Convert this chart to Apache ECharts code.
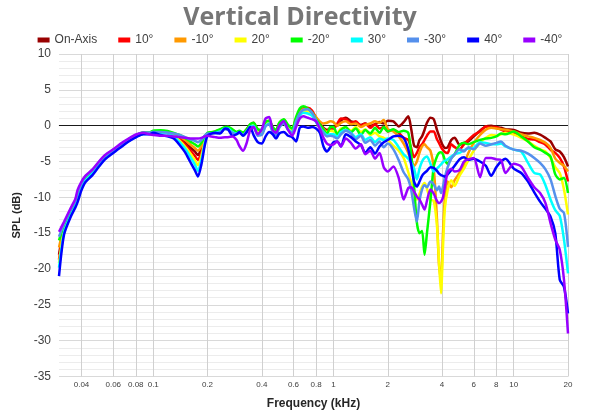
<!DOCTYPE html>
<html><head><meta charset="utf-8">
<script src="https://cdn.jsdelivr.net/npm/echarts@6/dist/echarts.min.js"></script>
<style>html,body{margin:0;padding:0;background:#fff}#c{width:600px;height:420px}</style>
</head><body><div id="c"></div>
<script>
const freqs = [
0.03,0.032,0.035,0.037,0.038,0.04,0.042,0.046,0.05,0.054,0.06,0.067,0.073,0.081,0.088,0.095,
0.1,0.11,0.12,0.13,0.14,0.15,0.16,0.17,0.177,0.185,0.193,0.2,
0.21,0.22,0.235,0.25,0.26,0.275,0.29,0.3,0.315,0.33,0.345,0.36,0.38,
0.4,0.42,0.44,0.46,0.48,0.5,0.53,0.56,0.59,0.62,0.65,0.68,0.72,0.76,0.8,0.84,0.88,0.92,0.96,
1.0,1.05,1.1,1.17,1.25,1.33,1.42,1.5,1.6,1.7,1.8,1.9,
2.0,2.15,2.3,2.45,2.6,2.7,2.8,2.9,3.0,3.1,3.2,3.3,3.45,3.6,3.75,3.85,3.95,4.05,4.15,4.3,4.5,4.7,
5.0,5.3,5.6,6.0,6.5,7.0,7.5,8.0,8.5,9.0,10,11,12,13,14,15,16,17,18,19,20];

const onAxis = [
-18.0,-14.3,-12.0,-10.8,-10.0,-8.3,-7.4,-6.4,-5.3,-4.4,-3.5,-2.65,-2.0,-1.35,-1.0,-1.0,
-0.85,-0.85,-0.9,-1.2,-1.7,-2.3,-3.0,-3.6,-4.1,-3.2,-1.9,-1.1,
-1.0,-0.9,-0.7,-0.4,-0.3,-0.6,-1.0,-0.8,-1.0,-0.5,0.1,0.3,-0.6,
-0.8,0.3,0.5,-0.5,-0.9,0.2,0.7,-0.2,-0.6,0.8,1.8,2.2,2.3,1.9,1.0,0.3,-0.3,-0.6,-0.4,
-0.2,0.0,0.7,1.1,0.6,0.4,0.1,0.3,0.0,0.2,0.5,0.3,
0.7,0.6,-0.1,0.5,1.3,-0.5,-2.8,-3.0,-2.0,-1.5,-0.6,0.4,1.1,0.9,-0.6,-1.4,-2.2,-2.8,-3.1,-3.0,-2.0,-1.7,
-2.65,-2.4,-2.2,-1.5,-0.7,-0.1,0.0,-0.2,-0.3,-0.5,-0.6,-1.0,-1.1,-1.0,-1.25,-1.7,-2.2,-3.3,-3.6,-4.4,-5.7];

const up10 = [
-18.7,-14.5,-12.1,-10.9,-10.1,-8.4,-7.5,-6.5,-5.4,-4.5,-3.6,-2.7,-2.05,-1.4,-1.05,-1.05,
-0.85,-0.85,-0.95,-1.3,-1.9,-2.6,-3.4,-4.2,-4.8,-3.7,-2.1,-1.2,
-1.0,-0.9,-0.6,-0.3,-0.3,-0.7,-1.0,-0.9,-1.1,-0.6,0.1,0.4,-0.7,
-0.7,0.4,0.6,-0.4,-0.8,0.3,0.8,-0.1,-0.5,1.0,2.0,2.4,2.5,2.1,1.1,0.3,-0.4,-0.8,-0.3,
-0.4,0.3,1.0,0.9,0.4,0.6,0.0,0.3,-0.3,0.2,-0.4,-0.2,
-0.8,-0.6,-1.0,-1.7,-2.0,-3.2,-4.4,-3.8,-3.0,-2.6,-2.0,-1.4,-0.8,-0.8,-1.9,-2.4,-3.0,-3.4,-3.7,-3.8,-2.6,-3.0,
-3.3,-2.6,-2.0,-1.3,-0.8,-0.1,-0.3,-0.2,-0.55,-0.8,-1.0,-1.5,-1.85,-1.95,-2.3,-2.65,-3.35,-3.8,-4.5,-5.7,-7.8];

const dn10 = [
-17.0,-14.1,-11.9,-10.7,-9.9,-8.2,-7.3,-6.4,-5.3,-4.4,-3.5,-2.6,-2.0,-1.3,-1.0,-1.0,
-0.8,-0.8,-0.85,-1.1,-1.5,-2.0,-2.6,-3.1,-3.5,-2.8,-1.7,-1.1,
-1.0,-0.8,-0.6,-0.3,-0.2,-0.6,-0.9,-0.8,-1.1,-0.5,0.1,0.3,-0.7,
-0.6,0.4,0.7,-0.3,-0.7,0.3,0.8,0.0,-0.4,0.9,1.9,2.3,2.3,1.8,1.2,0.6,0.3,0.4,0.6,
0.5,0.0,0.4,0.6,0.2,0.3,-0.2,0.1,0.3,0.6,0.4,0.8,
-0.5,-0.8,-1.5,-2.5,-3.8,-4.8,-5.6,-5.0,-3.8,-2.9,-2.6,-3.0,-3.5,-6.0,-13.0,-19.5,-21.5,-15.0,-10.0,-7.8,-8.6,-7.6,
-6.6,-5.4,-3.8,-2.4,-1.3,-0.55,-0.3,-0.4,-0.5,-0.55,-0.8,-1.2,-1.5,-1.7,-2.0,-2.4,-3.1,-4.6,-5.2,-5.6,-6.4];

const up20 = [
-19.2,-14.7,-12.2,-11.0,-10.3,-8.5,-7.6,-6.6,-5.5,-4.55,-3.65,-2.75,-2.1,-1.45,-1.1,-1.1,
-0.9,-0.9,-1.0,-1.4,-2.1,-2.9,-3.8,-4.8,-5.5,-4.2,-2.3,-1.2,
-1.1,-1.0,-0.7,-0.4,-0.4,-0.8,-1.1,-0.9,-1.2,-0.6,0.0,0.2,-0.9,
-0.9,0.2,0.4,-0.5,-1.0,0.1,0.6,-0.3,-0.7,0.6,1.6,2.0,2.0,1.7,0.8,0.0,-0.5,-0.9,-0.7,
-0.8,-1.0,-0.4,-0.3,-0.7,-0.2,-0.9,-0.5,-1.3,-1.0,-1.5,-1.7,
-2.0,-2.8,-3.5,-4.5,-6.5,-8.0,-9.4,-10.3,-9.5,-8.5,-8.0,-8.8,-10.3,-10.5,-14.0,-19.0,-23.4,-17.0,-11.5,-9.0,-7.6,-8.4,
-7.0,-6.0,-4.8,-3.5,-2.4,-1.7,-1.3,-1.4,-1.2,-1.0,-1.25,-1.7,-2.2,-2.8,-3.3,-3.6,-4.5,-5.8,-6.6,-8.9,-12.4];

const dn20 = [
-16.0,-13.9,-11.8,-10.6,-9.7,-8.1,-7.2,-6.3,-5.2,-4.3,-3.4,-2.55,-1.9,-1.3,-0.95,-0.95,
-0.7,-0.65,-0.75,-1.0,-1.3,-1.7,-2.2,-2.6,-2.9,-2.4,-1.5,-1.0,
-0.9,-0.8,-0.5,-0.2,-0.2,-0.5,-0.9,-0.7,-1.0,-0.5,0.2,0.4,-0.5,
-0.6,0.5,0.7,-0.2,-0.6,0.4,0.9,0.1,-0.4,1.2,2.4,2.7,2.4,1.8,0.9,0.2,-0.5,-1.2,-0.2,
-0.2,-1.2,-0.6,-0.2,-0.9,-0.4,-1.3,-0.6,-1.1,-0.3,-1.0,-0.2,
-0.8,-0.5,-0.9,-0.7,-1.0,-4.0,-8.5,-13.5,-15.0,-14.7,-18.0,-15.0,-10.5,-5.7,-4.3,-3.8,-3.7,-4.0,-4.8,-5.3,-4.5,-4.0,
-2.7,-2.4,-2.6,-2.3,-2.0,-1.8,-1.7,-1.5,-1.1,-1.2,-0.8,-1.5,-2.2,-3.0,-3.35,-3.8,-4.3,-6.8,-7.5,-7.3,-9.4];

const up30 = [
-19.8,-14.9,-12.4,-11.2,-10.5,-8.7,-7.7,-6.7,-5.6,-4.6,-3.7,-2.8,-2.15,-1.5,-1.15,-1.15,
-0.9,-1.0,-1.1,-1.5,-2.3,-3.2,-4.3,-5.4,-6.3,-4.8,-2.5,-1.3,
-1.1,-1.0,-0.8,-0.4,-0.4,-0.9,-1.1,-0.9,-1.3,-0.8,-0.1,0.0,-1.2,
-1.2,0.0,0.3,-0.8,-1.2,-0.2,0.4,-0.5,-0.9,0.5,1.4,1.8,1.7,1.4,0.5,-0.3,-0.9,-1.3,-1.2,
-1.2,-1.5,-0.9,-0.6,-1.0,-1.6,-1.2,-2.0,-1.6,-2.3,-1.8,-2.0,
-1.8,-2.0,-3.0,-4.0,-4.6,-5.2,-6.0,-7.5,-6.0,-5.0,-4.5,-4.3,-5.3,-6.4,-6.0,-5.7,-5.4,-5.1,-4.9,-4.7,-4.3,-4.0,
-3.8,-3.4,-3.2,-3.1,-2.3,-2.4,-2.6,-2.6,-2.5,-2.9,-3.35,-3.6,-5.2,-6.6,-6.8,-8.3,-10.3,-11.8,-12.6,-15.9,-20.6];

const dn30 = [
-15.5,-13.7,-11.6,-10.4,-9.4,-8.0,-7.1,-6.2,-5.1,-4.2,-3.4,-2.5,-1.9,-1.25,-0.95,-0.95,
-0.9,-0.9,-0.95,-1.1,-1.3,-1.6,-1.9,-2.1,-2.3,-2.0,-1.4,-1.1,
-1.1,-1.1,-0.9,-0.5,-0.6,-1.0,-1.2,-1.0,-1.3,-0.8,-0.2,-0.2,-1.4,
-1.3,-0.1,0.2,-0.9,-1.3,-0.3,0.3,-0.6,-1.0,0.6,1.7,2.2,2.3,1.8,0.8,-0.2,-1.0,-1.5,-1.4,
-1.5,-1.8,-1.2,-0.7,-1.1,-1.9,-1.4,-2.4,-2.0,-2.8,-2.2,-3.0,
-2.5,-3.3,-4.8,-6.5,-7.5,-9.0,-11.5,-13.4,-10.5,-8.9,-8.3,-8.6,-7.8,-8.2,-9.0,-8.5,-9.4,-8.5,-7.2,-5.8,-4.6,-4.0,
-3.3,-3.6,-3.0,-3.3,-2.5,-2.8,-2.6,-2.4,-2.2,-2.8,-3.35,-3.5,-3.9,-4.5,-5.2,-6.1,-7.5,-9.8,-11.6,-12.2,-16.9];

const up40 = [
-21.0,-15.2,-12.6,-11.4,-10.7,-9.0,-7.9,-6.9,-5.7,-4.7,-3.8,-2.9,-2.2,-1.55,-1.2,-1.2,
-1.0,-1.3,-1.5,-1.8,-2.7,-3.7,-5.0,-6.2,-7.1,-5.4,-2.8,-1.4,
-1.1,-1.0,-1.1,-0.4,-0.5,-1.4,-1.2,-0.9,-1.4,-0.9,-0.2,-1.3,-2.3,
-2.5,-1.5,-0.9,-1.2,-1.8,-1.1,-0.9,-1.4,-1.6,-2.2,-0.3,-0.1,-0.3,-0.2,-0.4,-1.0,-2.9,-3.6,-3.0,
-2.3,-2.2,-2.9,-1.2,-1.6,-2.2,-2.7,-3.8,-3.0,-3.9,-2.9,-2.3,
-2.0,-1.5,-1.4,-1.7,-3.3,-5.5,-7.8,-8.5,-7.8,-7.0,-6.6,-6.3,-5.8,-5.9,-6.3,-6.7,-6.9,-7.0,-7.1,-6.8,-6.2,-5.6,
-4.7,-4.4,-4.8,-4.6,-5.0,-5.6,-7.0,-5.8,-5.0,-4.6,-6.0,-6.6,-7.8,-9.3,-10.6,-11.6,-12.7,-15.0,-21.5,-22.5,-26.2];

const dn40 = [
-14.8,-13.4,-11.4,-10.2,-9.0,-7.8,-7.0,-6.1,-5.0,-4.1,-3.3,-2.4,-1.8,-1.2,-1.0,-1.2,
-1.3,-1.4,-1.4,-1.5,-1.6,-1.7,-1.8,-1.8,-1.8,-1.7,-1.5,-1.4,
-1.5,-1.6,-1.7,-1.6,-1.6,-1.5,-2.0,-2.8,-3.5,-2.4,-0.6,-0.2,-1.2,
-0.5,1.0,1.2,-0.6,-1.0,0.0,0.6,-0.6,-1.4,-0.2,1.0,1.3,1.1,0.9,0.6,-0.5,-1.7,-2.5,-2.7,
-2.6,-2.2,-2.9,-1.8,-2.4,-3.2,-2.6,-4.0,-3.5,-4.6,-3.8,-5.8,
-6.4,-5.7,-7.3,-10.3,-8.7,-8.6,-9.2,-9.9,-10.3,-11.0,-11.7,-10.5,-8.9,-9.5,-10.5,-10.8,-10.6,-10.0,-8.5,-6.5,-6.0,-6.4,
-6.2,-5.0,-4.7,-4.5,-7.2,-4.5,-4.5,-4.7,-4.8,-6.6,-5.3,-5.7,-7.3,-8.6,-9.4,-10.8,-13.6,-15.9,-17.3,-21.5,-29.0];

const seriesNames = ['On-Axis','10°','-10°','20°','-20°','30°','-30°','40°','-40°'];
const seriesValues = [onAxis, up10, dn10, up20, dn20, up30, dn30, up40, dn40];
const seriesColors = ['#990000','#ff0000','#ff9900','#ffff00','#00ff00','#00ffff','#5590ec','#0000ff','#9900ff'];
const xTicks = [0.04,0.06,0.08,0.1,0.2,0.4,0.6,0.8,1,2,4,6,8,10,20];

const chart = echarts.init(document.getElementById('c'), null, {renderer:'canvas'});
const series = seriesNames.map((n, k) => ({
  name: n, type: 'line', smooth: 0.25, showSymbol: false, symbol: 'none',
  color: seriesColors[k],
  lineStyle: {width: 2.5, color: seriesColors[k]},
  data: freqs.map((f, i) => [f, seriesValues[k][i]]),
  z: 3 + k,
  markLine: k === 0 ? {silent: true, symbol: 'none', label: {show: false},
    lineStyle: {color: '#1a1a1a', width: 1, type: 'solid'}, data: [{yAxis: 0}], z: 1} : undefined
}));
chart.setOption({
  animation: false,
  title: {text: 'Vertical Directivity', left: 'center', top: 0,
    textStyle: {fontFamily: 'Open Sans', fontWeight: 'bold', fontSize: 25, color: '#767676'}},
  legend: {top: 29, left: 'center', icon: 'rect', itemWidth: 12, itemHeight: 5, itemGap: 21,
    textStyle: {fontFamily: 'Liberation Sans', fontSize: 12, color: '#404040'}, data: seriesNames},
  grid: {left: 59, right: 32, top: 54, bottom: 43.5, containLabel: false},
  xAxis: {type: 'log', logBase: 10, min: 0.03, max: 20,
    name: 'Frequency (kHz)', nameLocation: 'middle', nameGap: 21,
    nameTextStyle: {fontFamily: 'Liberation Sans', fontWeight: 'bold', fontSize: 12, color: '#262626'},
    axisLine: {show: true, lineStyle: {color: '#d9d9d9'}},
    axisTick: {show: false, customValues: xTicks},
    minorTick: {show: false}, minorSplitLine: {show: false},
    axisLabel: {customValues: xTicks, fontSize: 8, color: '#404040', fontFamily: 'Liberation Sans', margin: 4,
      formatter: v => String(+(+v).toPrecision(2))},
    splitLine: {show: true, lineStyle: {color: '#d0d0d0', width: 1}}},
  yAxis: {type: 'value', min: -35, max: 10, interval: 5,
    name: 'SPL (dB)', nameLocation: 'middle', nameGap: 34, nameRotate: 90,
    nameTextStyle: {fontFamily: 'Liberation Sans', fontWeight: 'bold', fontSize: 11, color: '#262626'},
    axisLine: {show: false}, axisTick: {show: false},
    axisLabel: {fontSize: 12, color: '#404040', fontFamily: 'Liberation Sans', margin: 8},
    splitLine: {show: true, lineStyle: {color: '#d9d9d9'}},
    minorTick: {show: false, splitNumber: 5},
    minorSplitLine: {show: true, lineStyle: {color: '#ececec'}}},
  series: series
});
</script></body></html>
